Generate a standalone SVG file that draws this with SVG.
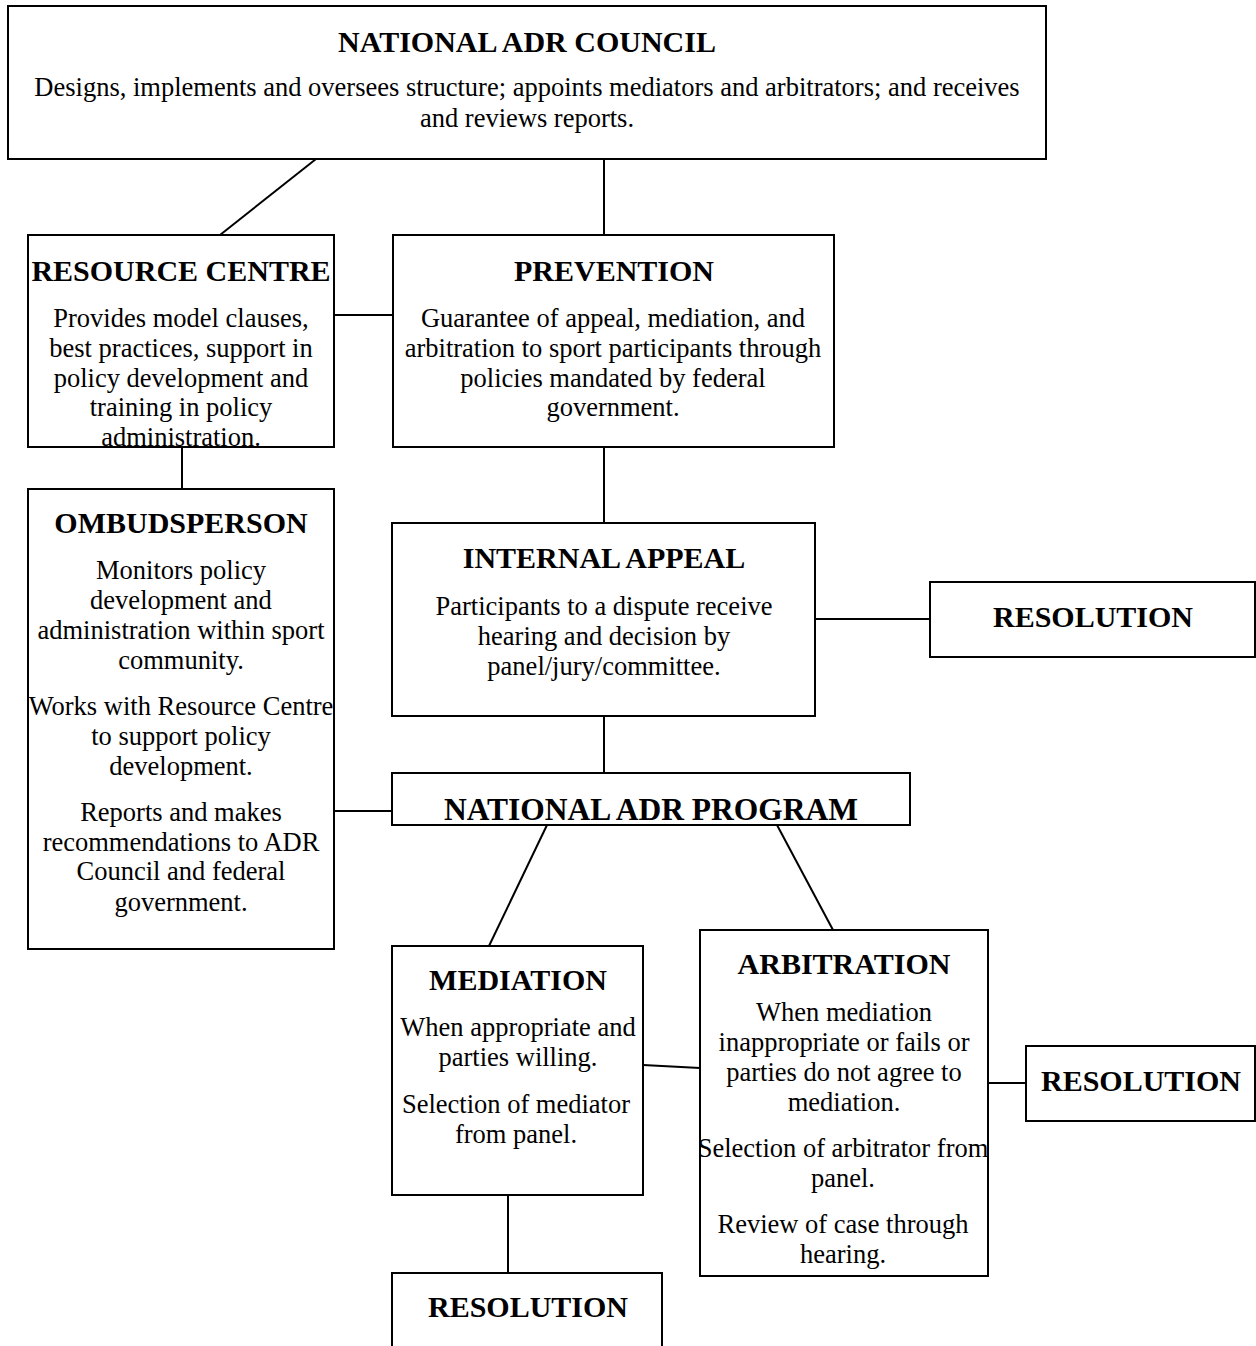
<svg xmlns="http://www.w3.org/2000/svg" width="1256" height="1346" viewBox="0 0 1256 1346">
<style>
.box{fill:#fff;stroke:#000;stroke-width:2}
.c line{stroke:#000;stroke-width:2}
text{font-family:"Liberation Serif","Times New Roman",serif;fill:#000;text-anchor:middle}
.t{font-size:30px;font-weight:bold}
.b{font-size:26.5px}
</style>
<rect width="1256" height="1346" fill="#fff"/>
<g class="c" id="connectors">
<line x1="316" y1="159" x2="220" y2="235"/>
<line x1="604" y1="159" x2="604" y2="235"/>
<line x1="334" y1="315" x2="392" y2="315"/>
<line x1="182" y1="447" x2="182" y2="489"/>
<line x1="604" y1="447" x2="604" y2="523"/>
<line x1="815" y1="619" x2="930" y2="619"/>
<line x1="604" y1="716" x2="604" y2="773"/>
<line x1="334" y1="811" x2="392" y2="811"/>
<line x1="547" y1="825" x2="489" y2="946"/>
<line x1="777" y1="825" x2="833" y2="930"/>
<line x1="643" y1="1065" x2="700" y2="1068"/>
<line x1="988" y1="1083" x2="1026" y2="1083"/>
<line x1="508" y1="1195" x2="508" y2="1273"/>
</g>
<g id="council">
<rect class="box" x="8" y="6" width="1038" height="153"/>
<text class="t" x="527" y="52">NATIONAL ADR COUNCIL</text>
<text class="b" x="527" y="96">Designs, implements and oversees structure; appoints mediators and arbitrators; and receives</text>
<text class="b" x="527" y="127">and reviews reports.</text>
</g>
<g id="resource">
<rect class="box" x="28" y="235" width="306" height="212"/>
<text class="t" x="181" y="281">RESOURCE CENTRE</text>
<text class="b" x="181" y="327">Provides model clauses,</text>
<text class="b" x="181" y="357">best practices, support in</text>
<text class="b" x="181" y="387">policy development and</text>
<text class="b" x="181" y="416">training in policy</text>
<text class="b" x="181" y="446">administration.</text>
</g>
<g id="prevention">
<rect class="box" x="393" y="235" width="441" height="212"/>
<text class="t" x="614" y="281">PREVENTION</text>
<text class="b" x="613" y="327">Guarantee of appeal, mediation, and</text>
<text class="b" x="613" y="357">arbitration to sport participants through</text>
<text class="b" x="613" y="387">policies mandated by federal</text>
<text class="b" x="613" y="416">government.</text>
</g>
<g id="ombudsperson">
<rect class="box" x="28" y="489" width="306" height="460"/>
<text class="t" x="181" y="533">OMBUDSPERSON</text>
<text class="b" x="181" y="579">Monitors policy</text>
<text class="b" x="181" y="609">development and</text>
<text class="b" x="181" y="639">administration within sport</text>
<text class="b" x="181" y="669">community.</text>
<text class="b" x="181" y="715">Works with Resource Centre</text>
<text class="b" x="181" y="745">to support policy</text>
<text class="b" x="181" y="775">development.</text>
<text class="b" x="181" y="821">Reports and makes</text>
<text class="b" x="181" y="851">recommendations to ADR</text>
<text class="b" x="181" y="880">Council and federal</text>
<text class="b" x="181" y="911">government.</text>
</g>
<g id="internal-appeal">
<rect class="box" x="392" y="523" width="423" height="193"/>
<text class="t" x="604" y="568">INTERNAL APPEAL</text>
<text class="b" x="604" y="615">Participants to a dispute receive</text>
<text class="b" x="604" y="645">hearing and decision by</text>
<text class="b" x="604" y="675">panel/jury/committee.</text>
</g>
<g id="resolution-1">
<rect class="box" x="930" y="582" width="325" height="75"/>
<text class="t" x="1093" y="627">RESOLUTION</text>
</g>
<g id="program">
<rect class="box" x="392" y="773" width="518" height="52"/>
<text class="t" x="651" y="820" style="font-size:31.5px">NATIONAL ADR PROGRAM</text>
</g>
<g id="mediation">
<rect class="box" x="392" y="946" width="251" height="249"/>
<text class="t" x="518" y="990">MEDIATION</text>
<text class="b" x="518" y="1036">When appropriate and</text>
<text class="b" x="518" y="1066">parties willing.</text>
<text class="b" x="516" y="1113">Selection of mediator</text>
<text class="b" x="516" y="1143">from panel.</text>
</g>
<g id="arbitration">
<rect class="box" x="700" y="930" width="288" height="346"/>
<text class="t" x="844" y="974">ARBITRATION</text>
<text class="b" x="844" y="1021">When mediation</text>
<text class="b" x="844" y="1051">inappropriate or fails or</text>
<text class="b" x="844" y="1081">parties do not agree to</text>
<text class="b" x="844" y="1111">mediation.</text>
<text class="b" x="843" y="1157">Selection of arbitrator from</text>
<text class="b" x="843" y="1187">panel.</text>
<text class="b" x="843" y="1233">Review of case through</text>
<text class="b" x="843" y="1263">hearing.</text>
</g>
<g id="resolution-2">
<rect class="box" x="1026" y="1046" width="229" height="75"/>
<text class="t" x="1141" y="1091">RESOLUTION</text>
</g>
<g id="resolution-3">
<rect class="box" x="392" y="1273" width="270" height="100"/>
<text class="t" x="528" y="1317">RESOLUTION</text>
</g>
</svg>
